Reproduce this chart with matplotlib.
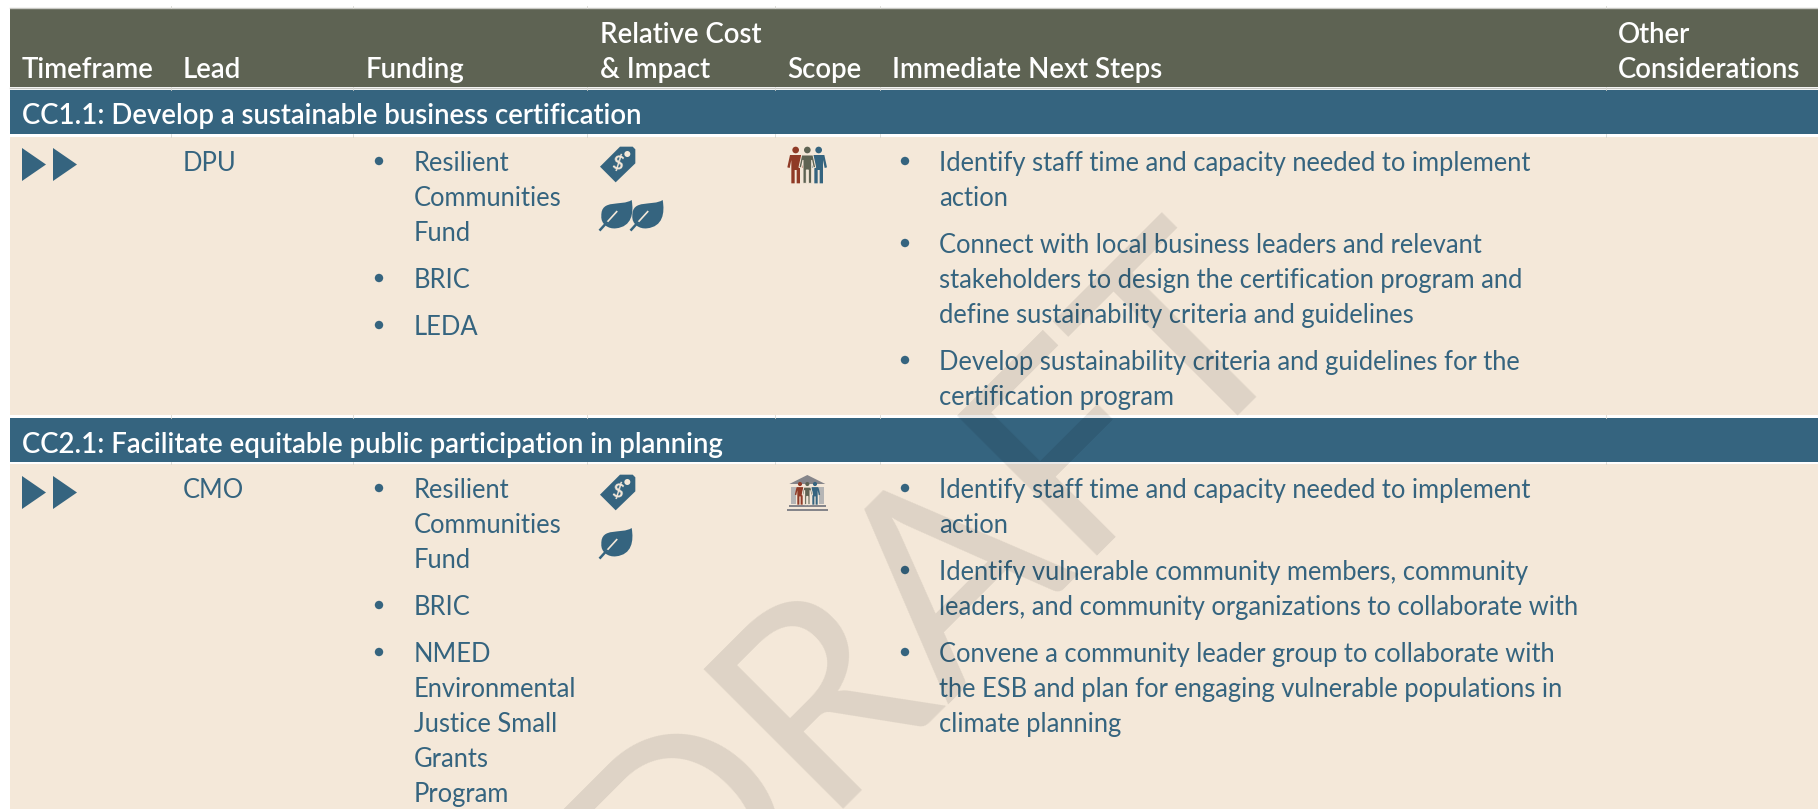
import matplotlib
matplotlib.use("Agg")
import matplotlib.pyplot as plt
from matplotlib.patches import Rectangle, Polygon, Circle, PathPatch
from matplotlib.path import Path

BLUE = "#35647f"
OLIVE = "#5e6353"
BEIGE = "#f4e8d9"
RED = "#8f3a26"
GREY = "#85858a"

plt.rcParams['font.family'] = ['Lato', 'DejaVu Sans']

header_cols = ["Timeframe", "Lead", "Funding", "Relative Cost\n& Impact", "Scope",
               "Immediate Next Steps", "Other\nConsiderations"]
titles = ["CC1.1: Develop a sustainable business certification",
          "CC2.1: Facilitate equitable public participation in planning"]
leads = ["DPU", "CMO"]
funding = [
    [["Resilient", "Communities", "Fund"], ["BRIC"], ["LEDA"]],
    [["Resilient", "Communities", "Fund"], ["BRIC"],
     ["NMED", "Environmental", "Justice Small", "Grants", "Program"]],
]
next_steps = [
    [["Identify staff time and capacity needed to implement", "action"],
     ["Connect with local business leaders and relevant",
      "stakeholders to design the certification program and",
      "define sustainability criteria and guidelines"],
     ["Develop sustainability criteria and guidelines for the", "certification program"]],
    [["Identify staff time and capacity needed to implement", "action"],
     ["Identify vulnerable community members, community",
      "leaders, and community organizations to collaborate with"],
     ["Convene a community leader group to collaborate with",
      "the ESB and plan for engaging vulnerable populations in",
      "climate planning"]],
]
leaf_counts = [2, 1]
watermark = "DRAFT"

fig = plt.figure(figsize=(18.18, 8.09), dpi=100, facecolor="white")
ax = fig.add_axes([0, 0, 1, 1])
ax.set_xlim(0, 1818)
ax.set_ylim(809, 0)
ax.axis("off")

BODY = 18.4
HEAD = 19.9


def band(y0, y1, color, z=1):
    ax.add_patch(Rectangle((10, y0), 1808, y1 - y0, fc=color, ec="none", zorder=z))


def bullets(x_dot, x_text, y, groups):
    # every group gets a dot, lines 35px apart, 47px to next group
    for group in groups:
        ax.add_patch(Circle((x_dot, y - 10), 4.2, fc=BLUE, ec="none", zorder=3))
        for line in group:
            ax.text(x_text, y, line, color=BLUE, fontsize=BODY, va="baseline", zorder=3)
            y += 35
        y += 12


def zoomed(points, x0, y0):
    return [(p[0] / 3 + x0, p[1] / 3 + y0) for p in points]


def tag(x0, y0):
    pts = [(120, 50), (158, 50), (166, 58), (166, 100), (107, 157), (60, 110)]
    ax.add_patch(Polygon(zoomed(pts, x0, y0), fc=BLUE, ec="none", zorder=3))
    c = zoomed([(142, 72)], x0, y0)[0]
    ax.add_patch(Circle(c, 3, fc=BEIGE, ec="none", zorder=4))
    c = zoomed([(113, 100)], x0, y0)[0]
    ax.text(c[0], c[1], "$", color=BEIGE, fontsize=14, fontweight="bold", rotation=-12,
            ha="center", va="center", zorder=4)


def leaf(x0, y0):
    verts = zoomed([(155, 210), (125, 230), (62, 205), (64, 258), (62, 282), (85, 298), (108, 295),
                    (155, 290), (162, 250), (155, 210), (155, 210)], x0, y0)
    codes = [Path.MOVETO] + [Path.CURVE4] * 9 + [Path.CLOSEPOLY]
    ax.add_patch(PathPatch(Path(verts, codes), fc=BLUE, ec="none", zorder=3))
    a, b, c = zoomed([(110, 245), (80, 278), (61, 299)], x0, y0)
    ax.plot([a[0], b[0]], [a[1], b[1]], color=BEIGE, lw=1.2, zorder=4)
    ax.plot([b[0], c[0]], [b[1], c[1]], color=BLUE, lw=1.8, zorder=4)


def person(cx, top, s, color, x0, y0, edge="none"):
    shape = [(-17, 15), (17, 15), (25, 52), (18, 54), (13, 30), (13, 100), (3, 100), (3, 60),
             (-3, 60), (-3, 100), (-13, 100), (-13, 30), (-18, 54), (-25, 52)]
    pts = [(cx + a * s, top + b * s) for a, b in shape]
    ax.add_patch(Polygon(zoomed(pts, x0, y0), fc=color, ec=edge, lw=0.7, zorder=5))
    c = zoomed([(cx, top)], x0, y0)[0]
    ax.add_patch(Circle(c, 10 * s / 3, fc=color, ec="none", zorder=5))


def people(x0, y0):
    person(716, 60, 1, BLUE, x0, y0)
    person(647, 60, 1, RED, x0, y0)
    person(682, 60, 1, OLIVE, x0, y0, edge=BEIGE)


def bank(x0, y0):
    ax.add_patch(Polygon(zoomed([(628, 72), (682, 45), (736, 72)], x0, y0), fc=GREY, ec="none", zorder=3))
    for x in (634, 716):
        ax.add_patch(Rectangle(zoomed([(x, 82)], x0, y0)[0], 5, 17, fc="#b5b5b5", ec="none", zorder=3))
    for pts in ([(627, 135), (738, 141)], [(620, 147), (744, 153)]):
        a, b = zoomed(pts, x0, y0)
        ax.add_patch(Rectangle(a, b[0] - a[0], b[1] - a[1], fc=GREY, ec="none", zorder=3))
    person(705, 72, 0.62, BLUE, x0, y0)
    person(660, 72, 0.62, RED, x0, y0)
    person(682, 72, 0.62, OLIVE, x0, y0, edge=BEIGE)


# bands
band(8, 87, OLIVE)
band(90, 134, BLUE)
band(137, 415, BEIGE)
band(418, 462, BLUE)
band(464, 809, BEIGE)
ax.plot([10, 1818], [8, 8], color="#c9c9c4", lw=1, zorder=2)
ax.plot([10, 1818], [87.5, 87.5], color="#c9c9c4", lw=1, zorder=2)
for x in (171, 353, 587, 775, 880, 1606):
    for y0, y1 in ((6, 8), (87, 90), (134, 137), (415, 418), (462, 464)):
        ax.plot([x, x], [y0, y1], color="#d8d8d2", lw=0.6, zorder=2)

# header row
col_x = [22, 183, 366, 600, 787, 892, 1618]
for x, label in zip(col_x, header_cols):
    lines = label.split("\n")
    for i, line in enumerate(reversed(lines)):
        ax.text(x, 78 - 35 * i, line, color="white", fontsize=HEAD, fontweight="semibold",
                va="baseline", zorder=3)

# two action rows
title_y = [124, 453]
row_y = [171, 498]
icon_dy = [0, 328]
for r in range(2):
    ax.text(22, title_y[r], titles[r], color="white", fontsize=HEAD, fontweight="semibold",
            va="baseline", zorder=3)
    for dx in (0, 31):
        tri = [(22 + dx, 148 + icon_dy[r]), (46 + dx, 164.5 + icon_dy[r]), (22 + dx, 181 + icon_dy[r])]
        ax.add_patch(Polygon(tri, fc=BLUE, ec="none", zorder=3))
    ax.text(183, row_y[r], leads[r], color=BLUE, fontsize=BODY, va="baseline", zorder=3)
    bullets(379, 414, row_y[r], funding[r])
    bullets(905, 939, row_y[r], next_steps[r])
    tag(580, 130 + icon_dy[r])
    for k in range(leaf_counts[r]):
        leaf(580 + 31 * k, 130 + icon_dy[r])

people(580, 130)
bank(580, 460)

# watermark, multiplies whatever is below it
ax.text(672, 956, watermark, color="black", alpha=0.09, fontsize=198, rotation=45,
        rotation_mode="anchor", ha="left", va="baseline", zorder=10, clip_on=True)

fig.savefig("out.png", dpi=100, facecolor="white")
